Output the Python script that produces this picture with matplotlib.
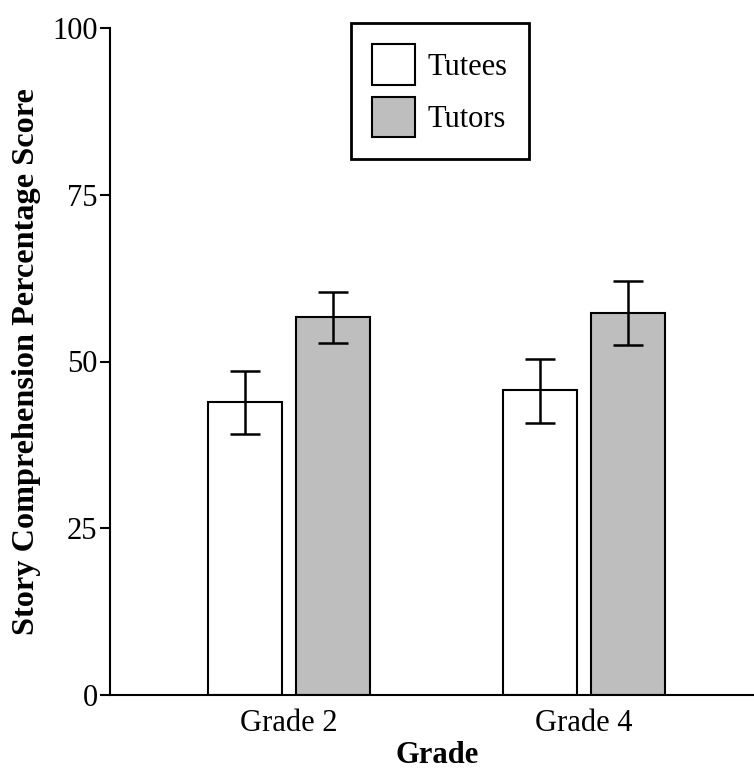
import numpy as np
import matplotlib.pyplot as plt
from matplotlib.patches import Patch

grades = ["Grade 2", "Grade 4"]
tutees = [43.9, 45.7]
tutees_lo = [39.2, 40.8]
tutees_hi = [48.65, 50.3]
tutors = [56.6, 57.3]
tutors_lo = [52.7, 52.5]
tutors_hi = [60.4, 62.1]

plt.rcParams['font.family'] = ['Liberation Serif', 'DejaVu Serif']

fig = plt.figure(figsize=(7.54, 7.71), dpi=100)
ax = fig.add_axes([110 / 754, 76 / 771, 644 / 754, 667 / 771])

x = np.arange(len(grades))
w = 0.251
off = 0.149
tutees = np.array(tutees)
tutors = np.array(tutors)
err_tutees = [tutees - np.array(tutees_lo), np.array(tutees_hi) - tutees]
err_tutors = [tutors - np.array(tutors_lo), np.array(tutors_hi) - tutors]

ekw = dict(elinewidth=1.8, capthick=1.8, ecolor='black')
ax.bar(x - off, tutees, w, color='white', edgecolor='black', linewidth=1.5,
       yerr=err_tutees, capsize=10.5, error_kw=ekw)
ax.bar(x + off, tutors, w, color='#bebebe', edgecolor='black', linewidth=1.5,
       yerr=err_tutors, capsize=10.5, error_kw=ekw)

ax.set_xlim(-0.607, 1.576)
ax.set_ylim(0, 100)
ax.set_yticks([0, 25, 50, 75, 100])
ax.set_xticks(x)
ax.set_xticklabels(grades)
ax.tick_params(axis='x', length=0, labelsize=22, pad=10)
ax.tick_params(axis='y', length=7, width=1.5, labelsize=22, pad=2)
for s in ['top', 'right']:
    ax.spines[s].set_visible(False)
for s in ['left', 'bottom']:
    ax.spines[s].set_linewidth(1.5)

ax.set_xlabel("Grade", fontsize=22, fontweight='bold', labelpad=2)
ax.xaxis.label.set_x(0.508)
ax.set_ylabel("Story Comprehension Percentage Score", fontsize=23.2,
              fontweight='bold', labelpad=8)

handles = [Patch(facecolor='white', edgecolor='black', linewidth=1.5),
           Patch(facecolor='#bebebe', edgecolor='black', linewidth=1.5)]
leg = fig.legend(handles, ["Tutees", "Tutors"], loc='upper left',
                 bbox_to_anchor=(351 / 754, 1 - 23 / 771), borderaxespad=0,
                 fontsize=22, frameon=True, fancybox=False, edgecolor='black',
                 framealpha=1, handlelength=1.4, handleheight=1.67,
                 handletextpad=0.4, labelspacing=0.38, borderpad=0.7)
leg.get_frame().set_linewidth(2)

fig.savefig("out.png", dpi=100)
